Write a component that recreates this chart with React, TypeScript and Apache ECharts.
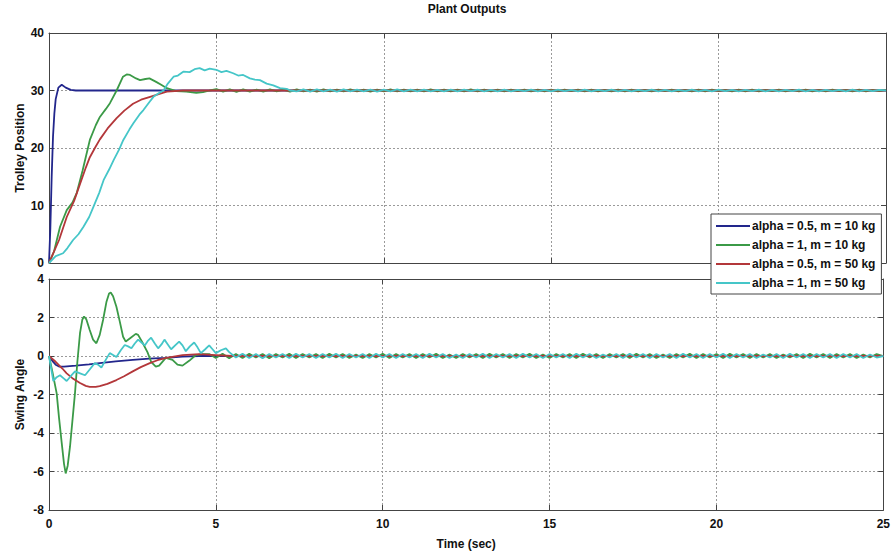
import React, { useEffect, useRef } from "react";
import * as echarts from "echarts";

const NAMES = ["alpha = 0.5, m = 10 kg", "alpha = 1, m = 10 kg", "alpha = 0.5, m = 50 kg", "alpha = 1, m = 50 kg"];
const COLORS = ["#22268c", "#3b9a47", "#b3373a", "#45c6c8"];
const STEP = 0.2;

// ---- Trolley position (top) ----
const posBlue = [[0,0],[0.04,6],[0.08,15],[0.12,22],[0.16,26],[0.2,28.5],[0.28,30.5],[0.38,31.0],[0.5,30.5],[0.65,30.1],[0.8,30],[25,30]];
const posRed = [[0,0],[0.3,4],[0.53,8],[0.75,10.8],[0.93,13.8],[1.1,16.6],[1.22,18.4],[1.4,20.3],[1.52,21.5],[1.75,23.4],[2.02,25.2],[2.25,26.5],[2.51,27.7],[2.75,28.4],[3.02,28.9],[3.3,29.4],[3.52,29.8],[4.0,30],[25,30]];
const posGreen = [[0,0],[0.15,2],[0.33,6.3],[0.53,9.2],[0.7,10.5],[0.83,12.2],[1.0,16],[1.22,21.4],[1.4,24],[1.52,25.4],[1.7,26.8],[1.82,27.8],[2.02,30],[2.21,32.4],[2.32,32.8],[2.42,32.7],[2.6,32.1],[2.72,31.8],[2.88,32.0],[3.0,32.1],[3.2,31.5],[3.35,31.0],[3.52,30.4],[3.8,29.9],[4.1,29.8],[4.4,29.6],[4.6,29.7],[4.8,30.0]];
const posGreenTailStart = 5.0;
const posGreenTail = [
30.25,29.8,30.2,29.75,30.2,29.8,30.15,29.8,30.2,29.85,
30.15,29.8,30.2,29.85,30.15,29.8,30.2,29.85,30.15,29.85,
30.2,29.85,30.15,29.8,30.15,29.85,30.2,29.85,30.15,29.85,
30.15,29.85,30.2,29.85,30.15,29.85,30.15,29.85,30.2,29.85,
30.15,29.85,30.15,29.85,30.15,29.9,30.15,29.85,30.15,29.85,
30.15,29.85,30.15,29.9,30.15,29.85,30.15,29.85,30.1,29.85,
30.15,29.85,30.15,29.85,30.1,29.85,30.15,29.9,30.15,29.85,
30.1,29.85,30.15,29.85,30.15,29.9,30.1,29.85,30.15,29.85,
30.15,29.85,30.1,29.9,30.15,29.85,30.1,29.85,30.15,29.85,
30.1,29.85,30.15,29.9,30.1,29.85,30.15,29.85,30.1,29.9,
30.1];
const posCyan = [[0,0],[0.2,1.2],[0.42,1.7],[0.55,2.6],[0.72,4.0],[0.88,5.0],[1.03,6.3],[1.2,8.0],[1.33,9.8],[1.5,12.2],[1.63,14.4],[1.8,16.3],[1.93,17.9],[2.1,19.8],[2.22,21.4],[2.4,23.2],[2.52,24.3],[2.7,25.8],[2.82,26.6],[3.0,28.0],[3.12,28.9],[3.3,29.6],[3.42,30],[3.55,31.2],[3.72,32.4],[3.85,32.6],[4.02,33.3],[4.2,33.2],[4.35,33.7],[4.5,33.9],[4.65,33.5],[4.8,33.8],[5.0,33.6],[5.15,33.2],[5.3,33.4],[5.5,33.0],[5.65,32.6],[5.8,32.7],[6.0,32.1],[6.15,31.9],[6.3,31.8],[6.5,31.2],[6.7,30.9],[6.9,30.4],[7.1,30.3],[7.2,30.0]];
const posCyanTailStart = 7.4;
const posCyanTail = [
29.85,30.2,29.8,30.2,29.85,30.15,29.8,30.2,29.85,30.15,
29.85,30.15,29.8,30.15,29.85,30.2,29.85,30.15,29.85,30.15,
29.85,30.1,29.85,30.15,29.85,30.15,29.9,30.15,29.85,30.1,
29.85,30.15,29.85,30.1,29.9,30.15,29.85,30.1,29.85,30.15,
29.9,30.1,29.85,30.15,29.85,30.1,29.9,30.15,29.85,30.1,
29.85,30.1,29.9,30.15,29.85,30.1,29.85,30.1,29.9,30.15,
29.85,30.1,29.85,30.15,29.9,30.1,29.85,30.1,29.9,30.15,
29.85,30.1,29.85,30.1,29.9,30.15,29.85,30.1,29.85,30.1,
29.9,30.1,29.85,30.15,29.85,30.1,29.9,30.1,30.0];

// ---- Swing angle (bottom) ----
const angBlue = [[0,0],[0.1,-0.25],[0.2,-0.45],[0.3,-0.55],[0.45,-0.55],[0.8,-0.5],[1.2,-0.43],[1.52,-0.37],[2.0,-0.28],[2.51,-0.2],[3.0,-0.14],[3.5,-0.1],[4.0,-0.03],[4.5,0],[25,0]];
const angRed = [[0,0],[0.2,-0.3],[0.4,-0.65],[0.53,-0.9],[0.7,-1.15],[0.93,-1.4],[1.1,-1.55],[1.22,-1.6],[1.4,-1.6],[1.52,-1.57],[1.75,-1.45],[2.02,-1.25],[2.25,-1.05],[2.51,-0.8],[2.75,-0.58],[3.02,-0.37],[3.25,-0.22],[3.52,-0.1],[4.0,0.05],[4.5,0.1],[5.0,0.05],[5.5,0],[25,0]];
const angGreen = [[0,0],[0.1,-0.8],[0.23,-1.94],[0.3,-3.2],[0.38,-4.5],[0.45,-5.6],[0.5,-6.1],[0.56,-5.7],[0.63,-4.7],[0.7,-3.4],[0.78,-1.9],[0.85,-0.3],[0.93,1.2],[1.0,1.9],[1.05,2.05],[1.12,1.9],[1.22,1.35],[1.32,0.85],[1.42,0.66],[1.52,1.1],[1.62,1.87],[1.72,2.8],[1.8,3.25],[1.85,3.3],[1.92,3.1],[2.02,2.56],[2.12,1.8],[2.22,1.0],[2.3,0.75],[2.45,0.95],[2.6,1.15],[2.67,1.1],[2.8,0.7],[2.95,0.2],[3.06,-0.3],[3.2,-0.55],[3.3,-0.5],[3.5,-0.1],[3.7,-0.2],[3.85,-0.45],[4.0,-0.5],[4.2,-0.25],[4.4,0.05],[4.6,0.1]];
const angGreenTailStart = 4.8;
const angGreenTail = [
0.1,-0.1,0.12,-0.12,0.1,-0.1,0.12,-0.08,0.1,-0.12,
0.1,-0.08,0.12,-0.1,0.1,-0.08,0.1,-0.1,0.12,-0.08,
0.1,-0.1,0.08,-0.1,0.1,-0.08,0.12,-0.1,0.1,-0.08,
0.1,-0.1,0.1,-0.08,0.12,-0.1,0.08,-0.1,0.1,-0.08,
0.1,-0.1,0.12,-0.08,0.1,-0.1,0.1,-0.08,0.12,-0.1,
0.08,-0.1,0.1,-0.08,0.1,-0.1,0.12,-0.08,0.1,-0.1,
0.1,-0.08,0.1,-0.1,0.12,-0.08,0.1,-0.1,0.08,-0.1,
0.1,-0.08,0.12,-0.1,0.1,-0.08,0.1,-0.1,0.12,-0.08,
0.1,-0.1,0.1,-0.08,0.1,-0.1,0.08,-0.08,0.1,-0.1,
0.12,-0.08,0.1,-0.1,0.1,-0.08,0.1,-0.1,0.08,-0.08,
0.1,0.0];
const angCyan = [[0,0],[0.13,-1.3],[0.23,-1.1],[0.33,-1.0],[0.43,-1.15],[0.53,-1.3],[0.65,-1.05],[0.78,-0.8],[0.93,-0.9],[1.08,-1.0],[1.22,-0.7],[1.37,-0.37],[1.47,-0.45],[1.57,-0.6],[1.7,-0.2],[1.82,0.15],[1.92,0.05],[2.02,-0.05],[2.15,0.3],[2.27,0.57],[2.37,0.5],[2.47,0.4],[2.57,0.65],[2.67,0.85],[2.77,0.7],[2.87,0.55],[2.97,0.8],[3.06,0.95],[3.17,0.65],[3.27,0.4],[3.37,0.6],[3.46,0.85],[3.56,0.6],[3.66,0.35],[3.78,0.55],[3.9,0.75],[4.0,0.55],[4.1,0.25],[4.22,0.5],[4.35,0.7],[4.45,0.45],[4.55,0.15],[4.68,0.35],[4.8,0.55],[4.9,0.35],[5.0,0.15],[5.15,0.3],[5.3,0.4],[5.4,0.2]];
const angCyanTailStart = 5.6;
const angCyanTail = [
-0.08,0.12,-0.1,0.1,-0.12,0.1,-0.08,0.1,-0.1,0.12,
-0.08,0.1,-0.1,0.1,-0.08,0.12,-0.1,0.1,-0.08,0.1,
-0.1,0.12,-0.08,0.1,-0.1,0.1,-0.08,0.1,-0.1,0.12,
-0.08,0.1,-0.1,0.08,-0.1,0.1,-0.08,0.12,-0.1,0.1,
-0.08,0.1,-0.1,0.12,-0.08,0.1,-0.1,0.1,-0.08,0.1,
-0.1,0.12,-0.08,0.1,-0.1,0.08,-0.08,0.1,-0.1,0.12,
-0.08,0.1,-0.1,0.1,-0.08,0.1,-0.1,0.12,-0.08,0.1,
-0.1,0.1,-0.08,0.12,-0.1,0.1,-0.08,0.1,-0.1,0.08,
-0.08,0.1,-0.1,0.12,-0.08,0.1,-0.1,0.1,-0.08,0.1,
-0.1,0.1,-0.08,0.1,-0.1,0.08,-0.08,0.0];

const withTail = (early: number[][], start: number, tail: number[]) =>
  early.concat(tail.map((v, i) => [Math.round((start + i * STEP) * 100) / 100, v]));

const FONT = "Liberation Sans, Arial, sans-serif";
const labelStyle = { color: "#111", fontSize: 12, fontWeight: "bold" as const, fontFamily: FONT };

export default function App() {
  const ref = useRef<HTMLDivElement>(null);
  useEffect(() => {
    if (!ref.current) return;
    const chart = echarts.init(ref.current, null, { renderer: "svg" });
    const grids = [
      { left: 49, top: 33, width: 837, height: 230 },
      { left: 49, top: 279, width: 837, height: 231 },
    ];
    const splitLine = { show: true, lineStyle: { color: "#9a9a9a", type: [2, 2] as any, width: 1 } };
    const axisLine = { show: true, onZero: false, lineStyle: { color: "#444", width: 1 } };
    const tick = { show: true, inside: true, length: 5, lineStyle: { color: "#444" } };
    const xAxes: any[] = [];
    const yAxes: any[] = [];
    grids.forEach((_, g) => {
      xAxes.push({
        type: "value", gridIndex: g, min: 0, max: 25, interval: 5, position: "bottom",
        axisLine, axisTick: tick, splitLine,
        axisLabel: { show: g === 1, ...labelStyle, margin: 8 },
        name: g === 1 ? "Time (sec)" : "", nameLocation: "middle", nameGap: 28, nameTextStyle: labelStyle,
      });
      xAxes.push({
        type: "value", gridIndex: g, min: 0, max: 25, interval: 5, position: "top",
        axisLine, axisTick: tick, splitLine: { show: false }, axisLabel: { show: false },
      });
      yAxes.push({
        type: "value", gridIndex: g, position: "left",
        min: g === 0 ? 0 : -8, max: g === 0 ? 40 : 4, interval: g === 0 ? 10 : 2,
        axisLine, axisTick: tick, splitLine,
        axisLabel: { ...labelStyle, margin: 5 },
        name: g === 0 ? "Trolley Position" : "Swing Angle", nameLocation: "middle", nameGap: 23,
        nameMoveOverlap: false,
        nameTextStyle: labelStyle,
      });
      yAxes.push({
        type: "value", gridIndex: g, position: "right",
        min: g === 0 ? 0 : -8, max: g === 0 ? 40 : 4, interval: g === 0 ? 10 : 2,
        axisLine, axisTick: tick, splitLine: { show: false }, axisLabel: { show: false },
      });
    });
    const seriesData = [
      [posBlue, withTail(posGreen, posGreenTailStart, posGreenTail), posRed, withTail(posCyan, posCyanTailStart, posCyanTail)],
      [angBlue, withTail(angGreen, angGreenTailStart, angGreenTail), angRed, withTail(angCyan, angCyanTailStart, angCyanTail)],
    ];
    const series: any[] = [];
    seriesData.forEach((group, g) => {
      group.forEach((data, i) => {
        series.push({
          type: "line", name: NAMES[i], xAxisIndex: g * 2, yAxisIndex: g * 2, data,
          showSymbol: false, symbol: "none", lineStyle: { color: COLORS[i], width: 1.8 },
          itemStyle: { color: COLORS[i] }, clip: true, z: 2 + i,
        });
      });
    });
    chart.setOption({
      animation: false,
      backgroundColor: "#ffffff",
      title: {
        text: "Plant Outputs", left: 467, top: 3, padding: 0, textAlign: "center",
        textStyle: { ...labelStyle, fontSize: 12 },
      },
      legend: {
        data: NAMES, orient: "vertical", left: 711, top: 214,
        backgroundColor: "#ffffff", borderColor: "#444", borderWidth: 1,
        padding: [5, 6, 4, 5], itemGap: 5, itemWidth: 34, itemHeight: 2, icon: "rect",
        textStyle: { ...labelStyle, lineHeight: 14, padding: [0, 0, 0, -3] }, z: 10,
      },
      grid: grids,
      xAxis: xAxes,
      yAxis: yAxes,
      series,
    });
    return () => chart.dispose();
  }, []);
  return <div ref={ref} style={{ position: "fixed", left: 0, top: 0, width: 893, height: 556 }} />;
}
